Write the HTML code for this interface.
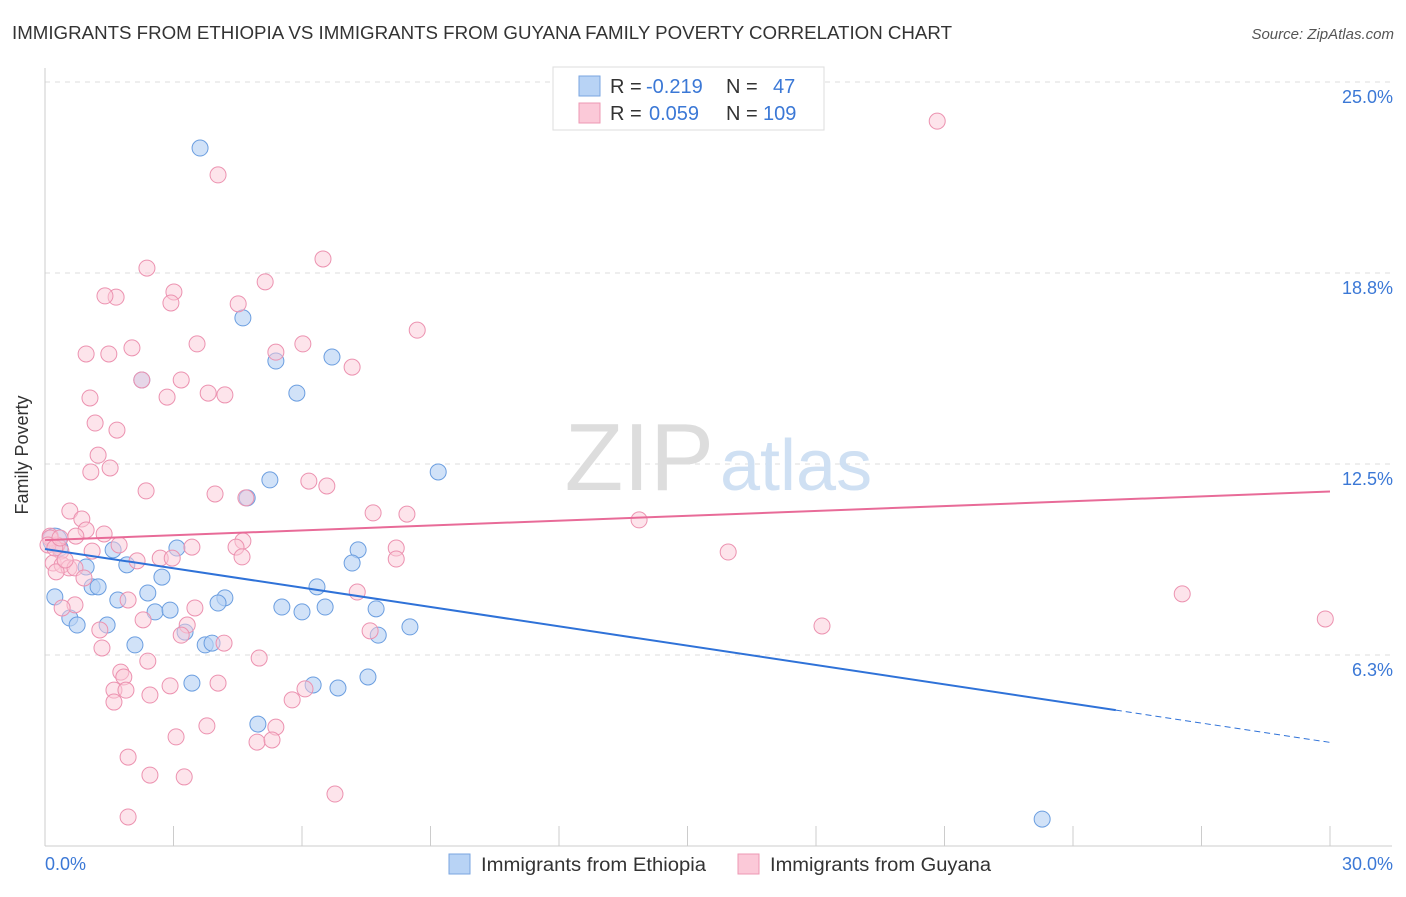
<!DOCTYPE html>
<html><head><meta charset="utf-8"><style>
body{margin:0;background:#fff;font-family:"Liberation Sans",sans-serif;}
svg text{font-family:"Liberation Sans",sans-serif;}
</style></head><body>
<svg id="chart" width="1406" height="892" viewBox="0 0 1406 892" xmlns="http://www.w3.org/2000/svg">
<text x="12" y="39" font-size="18" fill="#333" textLength="940" lengthAdjust="spacingAndGlyphs">IMMIGRANTS FROM ETHIOPIA VS IMMIGRANTS FROM GUYANA FAMILY POVERTY CORRELATION CHART</text>
<text x="1394" y="39" font-size="15" fill="#555" font-style="italic" text-anchor="end">Source: ZipAtlas.com</text>
<g id="grid"></g>
<text x="714" y="490" font-size="96" fill="#ddd" text-anchor="end" font-family="Liberation Serif">ZIP</text>
<text x="720" y="490" font-size="72" fill="#cfe0f3">atlas</text>
<line x1="45" y1="68" x2="45" y2="846" stroke="#ccc"/>
<line x1="45" y1="846" x2="1392" y2="846" stroke="#ccc"/>
<text x="28" y="455" font-size="18" fill="#333" text-anchor="middle" transform="rotate(-90 28 455)">Family Poverty</text>
<text x="45" y="870" font-size="18" fill="#3b78d6">0.0%</text>
<text x="1393" y="870" font-size="18" fill="#3b78d6" text-anchor="end">30.0%</text>
<g id="points"></g>
<g id="trends"></g>
<g>
<rect x="553" y="67" width="271" height="63" fill="#fff" stroke="#ddd"/>
<rect x="579" y="76" width="21" height="20" fill="#b8d3f5" stroke="#7aa6e0"/>
<rect x="579" y="103" width="21" height="20" fill="#fbc9d8" stroke="#ee98b3"/>
<text x="610" y="93" font-size="20" fill="#333">R = <tspan fill="#3b78d6" x="646">-0.219</tspan></text>
<text x="726" y="93" font-size="20" fill="#333">N = <tspan fill="#3b78d6" x="773">47</tspan></text>
<text x="610" y="120" font-size="20" fill="#333">R = <tspan fill="#3b78d6" x="649">0.059</tspan></text>
<text x="726" y="120" font-size="20" fill="#333">N = <tspan fill="#3b78d6" x="763">109</tspan></text>
</g>
<g>
<rect x="449" y="854" width="21" height="20" fill="#b8d3f5" stroke="#7aa6e0"/>
<text x="481" y="871" font-size="19" fill="#333" textLength="225" lengthAdjust="spacingAndGlyphs">Immigrants from Ethiopia</text>
<rect x="738" y="854" width="21" height="20" fill="#fbc9d8" stroke="#ee98b3"/>
<text x="770" y="871" font-size="19" fill="#333" textLength="221" lengthAdjust="spacingAndGlyphs">Immigrants from Guyana</text>
</g>
</svg>
<script>
const yTicks=[25.0,18.8,12.5,6.3];
const yTickValues=[25,18.75,12.5,6.25];
const xTickValues=[0,3,6,9,12,15,18,21,24,27,30];
const blueX=[3.62,4.62,2.26,5.39,6.70,5.88,5.25,4.72,9.18,0.23,0.35,1.59,3.08,7.31,1.91,7.17,0.96,2.73,1.10,1.24,6.35,2.40,0.23,1.70,4.20,4.04,5.53,6.0,6.54,7.73,2.57,2.92,0.58,0.75,1.45,8.52,3.27,7.78,2.10,3.74,3.90,3.43,6.26,6.84,7.54,4.97,23.28];
const blueY=[22.84,17.28,15.25,15.87,16.0,14.82,11.98,11.39,12.24,10.01,9.75,9.69,9.75,9.69,9.2,9.26,9.13,8.8,8.48,8.48,8.48,8.28,8.15,8.05,8.12,7.95,7.82,7.66,7.82,7.76,7.66,7.72,7.46,7.23,7.23,7.17,7.0,6.9,6.58,6.58,6.64,5.33,5.27,5.17,5.53,3.99,0.88];
const pinkX=[20.83,4.04,2.38,6.49,5.14,1.66,1.40,3.01,2.94,4.51,8.69,3.55,6.02,2.03,0.96,1.49,5.39,7.17,2.26,3.18,2.85,1.05,3.81,4.20,1.17,1.68,1.24,1.52,1.07,6.16,6.58,2.36,3.97,4.69,7.66,8.45,0.58,0.86,13.87,0.96,1.38,0.12,0.72,4.62,0.28,3.43,1.73,4.46,0.37,8.20,1.10,15.95,2.69,2.97,2.15,0.19,0.40,0.56,0.70,4.6,8.20,0.26,0.91,26.55,7.29,1.94,0.70,0.40,3.50,29.89,2.29,3.32,18.14,7.59,1.28,3.18,4.18,1.33,2.40,5.0,1.77,1.84,1.61,2.92,1.89,2.45,4.04,6.07,1.61,5.77,5.39,3.78,3.06,4.95,5.30,1.94,2.45,3.25,6.77,1.94,0.12,0.07,0.23,0.35,0.47];
const pinkY=[23.72,21.96,18.91,19.21,18.46,17.96,18.0,18.13,17.77,17.74,16.88,16.43,16.43,16.3,16.1,16.1,16.16,15.67,15.25,15.25,14.69,14.66,14.82,14.76,13.84,13.61,12.79,12.37,12.24,11.94,11.78,11.62,11.52,11.39,10.9,10.86,10.96,10.7,10.67,10.34,10.21,10.14,10.14,9.98,9.85,9.78,9.85,9.78,9.65,9.75,9.65,9.62,9.42,9.42,9.33,9.26,9.2,9.1,9.1,9.46,9.39,8.97,8.77,8.25,8.31,8.05,7.89,7.79,7.79,7.43,7.4,7.23,7.2,7.04,7.07,6.9,6.64,6.48,6.05,6.15,5.69,5.53,5.1,5.24,5.1,4.94,5.33,5.14,4.71,4.78,3.89,3.93,3.57,3.4,3.47,2.91,2.32,2.26,1.7,0.95,10.08,9.85,9.75,10.08,9.36];
const blueTrend=[9.72,-0.211];
const pinkTrend=[10.01,0.053];
const blueSolidEnd=25;
const NS='http://www.w3.org/2000/svg';
function sx(v){return 45+v/30*1285;}
function sy(v){return 846-v*30.56;}
function mk(tag,attrs,parent){const e=document.createElementNS(NS,tag);for(const k in attrs)e.setAttribute(k,attrs[k]);parent.appendChild(e);return e;}
const grid=document.getElementById('grid');
yTickValues.forEach((v,i)=>{
 const l=mk('line',{x1:45,x2:1392,y1:sy(v),y2:sy(v),stroke:'#ddd','stroke-dasharray':'5,5'},grid);
 
 
 const t=mk('text',{x:1393,y:sy(v)+21,'font-size':18,fill:'#3b78d6','text-anchor':'end'},grid);
 t.textContent=yTicks[i].toFixed(1)+'%';
 
 
});
xTickValues.forEach(v=>{
 const l=mk('line',{x1:sx(v),x2:sx(v),y1:826,y2:846,stroke:'#ccc'},grid);
 
 
});
const pts=document.getElementById('points');
blueX.forEach((x,i)=>{
 const c=mk('circle',{cx:sx(x),cy:sy(blueY[i]),r:(i===9?12:8),fill:'#b8d3f5','fill-opacity':0.65,stroke:'#6b9ee0','stroke-width':1},pts);
 
 
});
pinkX.forEach((x,i)=>{
 const c=mk('circle',{cx:sx(x),cy:sy(pinkY[i]),r:8,fill:'#fbc9d8','fill-opacity':0.5,stroke:'#ec92b0','stroke-width':1},pts);
 
 
});
const tr=document.getElementById('trends');
function ty(t,x){return t[0]+t[1]*x;}
let l1=mk('line',{x1:sx(0),y1:sy(ty(blueTrend,0)),x2:sx(blueSolidEnd),y2:sy(ty(blueTrend,blueSolidEnd)),stroke:'#2f72d8','stroke-width':2},tr);


let l2=mk('line',{x1:sx(blueSolidEnd),y1:sy(ty(blueTrend,blueSolidEnd)),x2:sx(30),y2:sy(ty(blueTrend,30)),stroke:'#2f72d8','stroke-width':1,'stroke-dasharray':'6,4'},tr);


let l3=mk('line',{x1:sx(0),y1:sy(ty(pinkTrend,0)),x2:sx(30),y2:sy(ty(pinkTrend,30)),stroke:'#e86b98','stroke-width':2},tr);


</script>
</body></html>
